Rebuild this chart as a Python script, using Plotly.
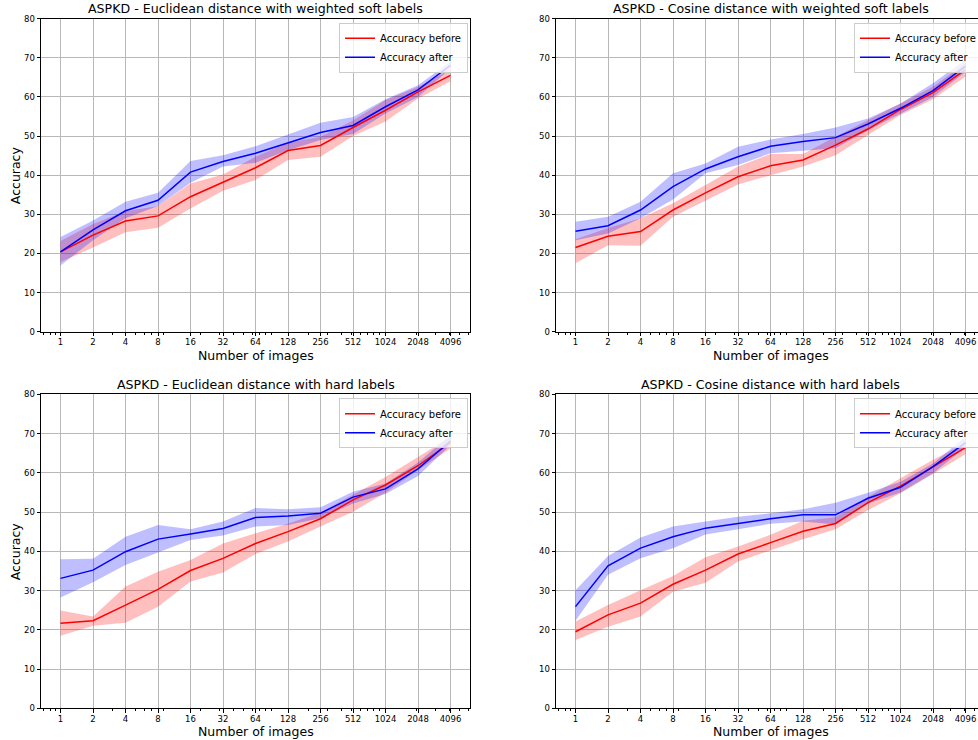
import math
import plotly.graph_objects as go

# ---------------- data ----------------
n_images = [1, 2, 4, 8, 16, 32, 64, 128, 256, 512, 1024, 2048, 4096]
tick_labels = ["1", "2", "4", "8", "16", "32", "64", "128", "256", "512", "1024", "2048", "4096"]
y_ticks = [0, 10, 20, 30, 40, 50, 60, 70, 80]

panel_titles = [
    "ASPKD - Euclidean distance with weighted soft labels",
    "ASPKD - Cosine distance with weighted soft labels",
    "ASPKD - Euclidean distance with hard labels",
    "ASPKD - Cosine distance with hard labels",
]

# Euclidean, weighted soft labels
euc_soft_before = [20.4, 24.7, 28.3, 29.6, 34.5, 38.1, 41.9, 46.3, 47.6, 52.2, 56.6, 61.3, 65.5]
euc_soft_before_lo = [17.8, 21.5, 25.4, 26.6, 31.5, 36.0, 38.8, 43.9, 44.7, 50.0, 53.7, 59.6, 64.0]
euc_soft_before_hi = [23.2, 27.5, 30.8, 32.1, 37.9, 40.2, 44.7, 48.3, 49.8, 54.0, 59.2, 62.6, 67.0]
euc_soft_after = [20.4, 26.0, 30.9, 33.6, 40.8, 43.5, 45.6, 48.3, 50.9, 52.7, 57.5, 61.8, 68.1]
euc_soft_after_lo = [16.9, 23.4, 29.0, 32.1, 38.1, 42.2, 43.2, 46.4, 49.0, 50.5, 55.8, 60.0, 67.3]
euc_soft_after_hi = [24.2, 28.4, 33.2, 35.5, 43.6, 45.1, 47.4, 50.3, 53.4, 54.9, 59.4, 63.0, 69.0]

# Cosine, weighted soft labels
cos_soft_before = [21.5, 24.4, 25.6, 31.1, 35.5, 39.6, 42.4, 43.9, 47.7, 51.8, 56.8, 61.1, 67.0]
cos_soft_before_lo = [17.5, 22.1, 22.0, 29.4, 33.6, 37.6, 40.0, 42.2, 45.1, 50.3, 55.4, 59.4, 65.2]
cos_soft_before_hi = [23.6, 26.5, 29.0, 32.8, 37.5, 42.2, 45.4, 45.4, 49.8, 54.0, 58.3, 62.6, 68.6]
cos_soft_after = [25.7, 27.1, 31.1, 37.1, 41.6, 44.7, 47.4, 48.6, 49.6, 53.1, 57.1, 61.6, 67.9]
cos_soft_after_lo = [23.4, 25.1, 29.0, 33.8, 40.5, 42.6, 45.6, 46.3, 46.9, 51.5, 55.8, 60.0, 66.4]
cos_soft_after_hi = [28.1, 29.4, 33.2, 40.5, 43.0, 47.3, 49.1, 50.5, 52.2, 54.5, 58.3, 63.5, 69.6]

# Euclidean, hard labels
euc_hard_before = [21.7, 22.3, 26.3, 30.3, 35.1, 38.2, 42.0, 45.0, 48.3, 53.1, 56.9, 61.8, 67.7]
euc_hard_before_lo = [18.5, 21.0, 21.8, 25.9, 32.3, 34.6, 39.3, 42.5, 46.3, 50.1, 54.9, 60.7, 66.2]
euc_hard_before_hi = [24.9, 23.4, 31.0, 34.8, 37.8, 42.0, 44.6, 47.0, 49.9, 54.4, 58.9, 64.0, 69.2]
euc_hard_after = [33.1, 35.2, 39.9, 43.1, 44.4, 45.8, 48.6, 49.0, 49.7, 53.8, 55.9, 61.0, 68.1]
euc_hard_after_lo = [28.2, 32.1, 36.5, 39.7, 42.9, 44.0, 46.3, 46.7, 48.4, 52.2, 54.6, 59.2, 67.1]
euc_hard_after_hi = [38.0, 38.1, 43.7, 46.7, 45.6, 47.6, 51.0, 50.7, 51.2, 55.2, 57.3, 62.6, 69.6]

# Cosine, hard labels
cos_hard_before = [19.5, 23.8, 26.8, 31.6, 35.2, 39.3, 42.2, 45.1, 47.1, 52.4, 56.6, 61.4, 66.4]
cos_hard_before_lo = [17.4, 20.8, 23.4, 29.7, 32.0, 37.4, 40.3, 43.1, 45.6, 50.5, 54.8, 59.7, 64.8]
cos_hard_before_hi = [22.1, 26.3, 30.1, 33.7, 38.5, 41.2, 44.2, 47.8, 48.7, 53.9, 58.6, 63.3, 67.5]
cos_hard_after = [25.9, 36.3, 40.8, 43.7, 45.9, 47.1, 48.3, 49.3, 49.3, 53.5, 56.3, 61.6, 67.7]
cos_hard_after_lo = [22.3, 34.0, 38.2, 40.8, 44.3, 45.6, 47.0, 47.6, 46.8, 52.2, 55.0, 59.9, 66.5]
cos_hard_after_hi = [30.1, 38.8, 43.5, 46.3, 47.6, 48.8, 49.7, 50.7, 52.4, 54.9, 57.7, 62.4, 69.2]

panels = [
    (euc_soft_before, euc_soft_before_lo, euc_soft_before_hi, euc_soft_after, euc_soft_after_lo, euc_soft_after_hi),
    (cos_soft_before, cos_soft_before_lo, cos_soft_before_hi, cos_soft_after, cos_soft_after_lo, cos_soft_after_hi),
    (euc_hard_before, euc_hard_before_lo, euc_hard_before_hi, euc_hard_after, euc_hard_after_lo, euc_hard_after_hi),
    (cos_hard_before, cos_hard_before_lo, cos_hard_before_hi, cos_hard_after, cos_hard_after_lo, cos_hard_after_hi),
]

# ---------------- layout geometry (pixels) ----------------
W, H = 978, 740
FONT = "DejaVu Sans"
# (left, right_full, top, bottom) in window px; right panels are cut by the window edge
boxes = [
    (41, 470, 18.7, 331.7),
    (556, 985, 18.7, 331.7),
    (41, 470, 394.3, 708.3),
    (556, 985, 394.3, 708.3),
]
LOG2_LO, LOG2_HI = -0.6, 12.6


def fx(px):
    return px / W


def fy(px):
    return 1 - px / H


minor_vals = [v * 10 ** d for d in range(-1, 4) for v in range(2, 10)]
minor_vals = [v for v in minor_vals if v not in n_images]

fig = go.Figure()
layout = dict(
    template="none",
    width=W, height=H,
    margin=dict(l=0, r=0, t=0, b=0, autoexpand=False),
    paper_bgcolor="white", plot_bgcolor="white",
    font=dict(family=FONT, color="black"),
    annotations=[],
)

for i, (bm, blo, bhi, am, alo, ahi) in enumerate(panels):
    k = "" if i == 0 else str(i + 1)
    xa, ya = "x" + k, "y" + k
    leg = "legend" + k
    left, right_full, top, bottom = boxes[i]
    right = min(right_full, W)
    px_per_unit = (right_full - left) / (LOG2_HI - LOG2_LO)
    hi_log2 = LOG2_LO + (right - left) / px_per_unit

    for m, lo, hi, col, fc, name in [
        (bm, blo, bhi, "#ff0000", "rgba(255,0,0,0.25)", "Accuracy before"),
        (am, alo, ahi, "#0000ff", "rgba(0,0,255,0.25)", "Accuracy after"),
    ]:
        fig.add_trace(go.Scatter(
            x=n_images + n_images[::-1], y=hi + lo[::-1],
            fill="toself", fillcolor=fc, line=dict(width=0), mode="lines",
            showlegend=False, hoverinfo="skip", xaxis=xa, yaxis=ya,
        ))
    for m, col, name in [(bm, "#ff0000", "Accuracy before"), (am, "#0000ff", "Accuracy after")]:
        fig.add_trace(go.Scatter(
            x=n_images, y=m, mode="lines", name=name,
            line=dict(color=col, width=1.5), xaxis=xa, yaxis=ya, legend=leg,
        ))

    is_right = i % 2 == 1
    layout["xaxis" + k] = dict(
        type="log", domain=[fx(left), fx(right)], anchor=ya, automargin=False,
        range=[LOG2_LO * math.log10(2), hi_log2 * math.log10(2)],
        tickmode="array", tickvals=n_images, ticktext=tick_labels,
        ticks="outside", ticklen=3.5, tickwidth=1, tickcolor="black",
        ticklabelstandoff=-1,
        tickfont=dict(size=8.5, family=FONT, color="black"),
        showline=True, linecolor="black", linewidth=1, mirror=True,
        showgrid=True, gridcolor="#b8b8b8", gridwidth=1, zeroline=False,
        minor=dict(tickmode="array", tickvals=minor_vals, ticks="outside",
                   ticklen=2, tickwidth=1, tickcolor="black", showgrid=False),
    )
    layout["yaxis" + k] = dict(
        domain=[fy(bottom), fy(top)], anchor=xa, range=[0, 80], automargin=False,
        tickmode="array", tickvals=y_ticks,
        ticks="outside", ticklen=3.5, tickwidth=1, tickcolor="black",
        tickfont=dict(size=8.5, family=FONT, color="black"),
        showline=True, linecolor="black", linewidth=1, mirror=not is_right,
        showgrid=True, gridcolor="#b8b8b8", gridwidth=1, zeroline=False,
    )
    layout[leg] = dict(
        x=fx(right_full - 131), xanchor="left",
        y=fy(top + 4.0), yanchor="top",
        bgcolor="rgba(255,255,255,0.8)", bordercolor="#cccccc", borderwidth=1,
        font=dict(size=10, family=FONT, color="black"),
        itemwidth=30, tracegroupgap=0,
    )
    cx = (left + right_full) / 2
    layout["annotations"].append(dict(
        text=panel_titles[i], x=fx(cx), y=fy(top - 10), xref="paper", yref="paper",
        xanchor="center", yanchor="middle", showarrow=False,
        font=dict(size=12.6, family=FONT, color="black"),
    ))
    layout["annotations"].append(dict(
        text="Number of images", x=fx(cx), y=fy(bottom + 23.5), xref="paper", yref="paper",
        xanchor="center", yanchor="middle", showarrow=False,
        font=dict(size=12.5, family=FONT, color="black"),
    ))
    if not is_right:
        layout["annotations"].append(dict(
            text="Accuracy", x=fx(15), y=fy((top + bottom) / 2), xref="paper", yref="paper",
            xanchor="center", yanchor="middle", showarrow=False, textangle=-90,
            font=dict(size=12.5, family=FONT, color="black"),
        ))

fig.update_layout(**layout)
# remove the browser's default 8px body margin so the figure sits at the window origin
fig.write_html(
    "out.html",
    config={"displayModeBar": False},
    post_script="document.body.style.margin='0px';document.body.style.overflow='hidden';",
)
